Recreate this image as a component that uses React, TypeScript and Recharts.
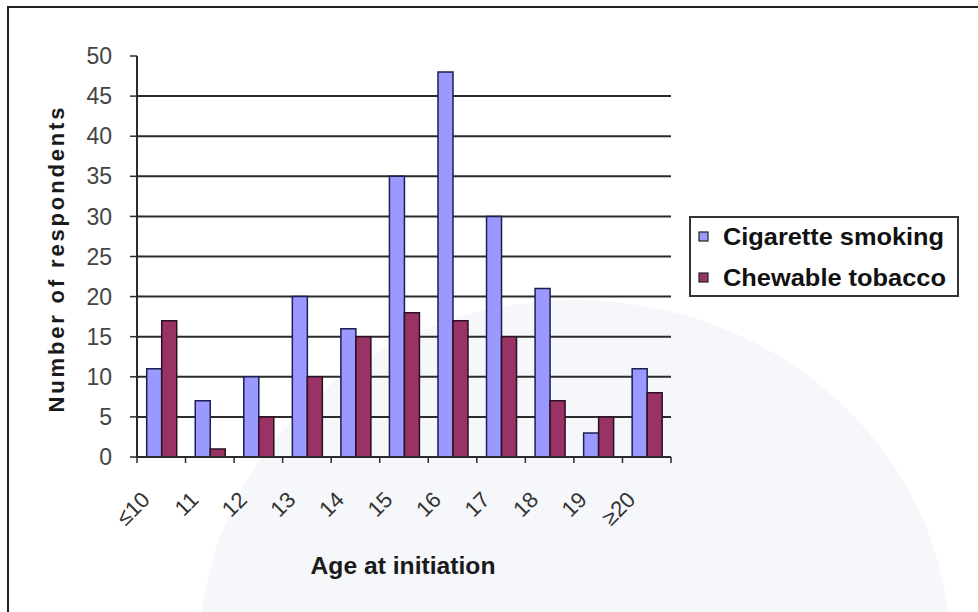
import React from 'react';
import { BarChart, Bar, XAxis, YAxis, CartesianGrid, Legend, Label } from 'recharts';

// Age at initiation (categories)
const ages = ['≤10', '11', '12', '13', '14', '15', '16', '17', '18', '19', '≥20'];
// Number of respondents per series
const cigaretteSmoking = [11, 7, 10, 20, 16, 35, 48, 30, 21, 3, 11];
const chewableTobacco = [17, 1, 5, 10, 15, 18, 17, 15, 7, 5, 8];
const yTicks = [0, 5, 10, 15, 20, 25, 30, 35, 40, 45, 50];
const gridValues = [5, 10, 15, 20, 25, 30, 35, 40, 45];
const seriesNames = ['Cigarette smoking', 'Chewable tobacco'];

const data = ages.map((age, i) => ({
  age,
  cig: cigaretteSmoking[i],
  chew: chewableTobacco[i],
}));

const W = 978;
const H = 612;
const MARGIN = { top: 56, right: 307, bottom: 95, left: 57 };
const Y_AXIS_W = 80;
const X_AXIS_H = 60;
const PLOT_W = W - MARGIN.left - Y_AXIS_W - MARGIN.right;
const BAND = PLOT_W / ages.length;
const FONT = '"Liberation Sans", Arial, sans-serif';
const AXIS_COLOR = '#2b2b2b';

const AgeTick = (props: any) => {
  const { x, y, payload, index } = props;
  const half = BAND / 2;
  const tx = x - 10;
  const ty = y + 44;
  return (
    <g>
      <line x1={x - half} y1={y} x2={x - half} y2={y + 6} stroke={AXIS_COLOR} strokeWidth={1.5} />
      {index === ages.length - 1 && (
        <line x1={x + half} y1={y} x2={x + half} y2={y + 6} stroke={AXIS_COLOR} strokeWidth={1.5} />
      )}
      <text
        x={tx}
        y={ty}
        textAnchor="end"
        transform={`rotate(-45, ${tx}, ${ty})`}
        fontSize={22}
        fontFamily={FONT}
        fill="#333"
      >
        {payload.value}
      </text>
    </g>
  );
};

const legendTextWidths = [221, 223];

const LegendBox = (props: any) => {
  const items = [...(props.payload || [])].sort(
    (a: any, b: any) => seriesNames.indexOf(a.value) - seriesNames.indexOf(b.value)
  );
  return (
    <svg width={270} height={81} style={{ display: 'block' }}>
      <rect x={1} y={1} width={268} height={79} fill="#fff" stroke="#333" strokeWidth={2} />
      {items.map((item: any, i: number) => (
        <g key={i}>
          <rect
            x={10}
            y={16 + i * 41}
            width={9}
            height={9}
            fill={item.color}
            stroke="#222"
            strokeWidth={1.2}
          />
          <text
            x={34}
            y={29 + i * 41}
            fontSize={23}
            fontWeight="bold"
            fontFamily={FONT}
            fill="#111"
            textLength={legendTextWidths[i]}
            lengthAdjust="spacingAndGlyphs"
          >
            {item.value}
          </text>
        </g>
      ))}
    </svg>
  );
};

export default function App() {
  return (
    <div
      style={{
        position: 'absolute',
        left: 0,
        top: 0,
        width: W,
        height: H,
        overflow: 'hidden',
        background: '#fff',
      }}
    >
      {/* faint background emblem */}
      <div
        style={{
          position: 'absolute',
          left: 200,
          top: 300,
          width: 750,
          height: 700,
          borderRadius: '50%',
          background: '#f6f7fb',
        }}
      />
      {/* outer frame */}
      <div
        style={{
          position: 'absolute',
          left: 7,
          top: 6,
          width: 1100,
          height: 800,
          border: '2px solid #222',
        }}
      />
      <div style={{ position: 'absolute', left: 0, top: 0 }}>
        <BarChart
          width={W}
          height={H}
          data={data}
          margin={MARGIN}
          barCategoryGap="20%"
          barGap={0}
        >
          <CartesianGrid
            horizontal
            vertical={false}
            horizontalValues={gridValues}
            stroke={AXIS_COLOR}
            strokeWidth={2}
          />
          <XAxis
            dataKey="age"
            height={X_AXIS_H}
            interval={0}
            tickSize={0}
            tickMargin={0}
            tickLine={false}
            axisLine={{ stroke: AXIS_COLOR, strokeWidth: 2 }}
            tick={<AgeTick />}
          >
            <Label
              content={() => (
                <text
                  x={403}
                  y={574}
                  textAnchor="middle"
                  fontSize={23}
                  fontWeight="bold"
                  fontFamily={FONT}
                  fill="#1a1a1a"
                  textLength={185}
                  lengthAdjust="spacingAndGlyphs"
                >
                  Age at initiation
                </text>
              )}
            />
          </XAxis>
          <YAxis
            width={Y_AXIS_W}
            domain={[0, 50]}
            ticks={yTicks}
            interval={0}
            tickSize={7}
            tickMargin={18}
            axisLine={{ stroke: AXIS_COLOR, strokeWidth: 2 }}
            tickLine={{ stroke: AXIS_COLOR, strokeWidth: 1.5 }}
            tick={{ fontSize: 23, fill: '#444', fontFamily: FONT }}
          >
            <Label
              content={() => (
                <text
                  x={64}
                  y={260}
                  textAnchor="middle"
                  transform="rotate(-90, 64, 260)"
                  fontSize={22}
                  fontWeight="bold"
                  fontFamily={FONT}
                  fill="#1a1a1a"
                  textLength={305}
                  lengthAdjust="spacing"
                >
                  Number of respondents
                </text>
              )}
            />
          </YAxis>
          <Legend
            layout="horizontal"
            align="center"
            verticalAlign="middle"
            wrapperStyle={{ left: 689, top: 216, width: 270, height: 81 }}
            content={<LegendBox />}
          />
          <Bar
            dataKey="cig"
            name={seriesNames[0]}
            fill="#9999ff"
            stroke="#1e1e50"
            strokeWidth={1.5}
            isAnimationActive={false}
          />
          <Bar
            dataKey="chew"
            name={seriesNames[1]}
            fill="#993366"
            stroke="#2a1020"
            strokeWidth={1.5}
            isAnimationActive={false}
          />
        </BarChart>
      </div>
    </div>
  );
}
